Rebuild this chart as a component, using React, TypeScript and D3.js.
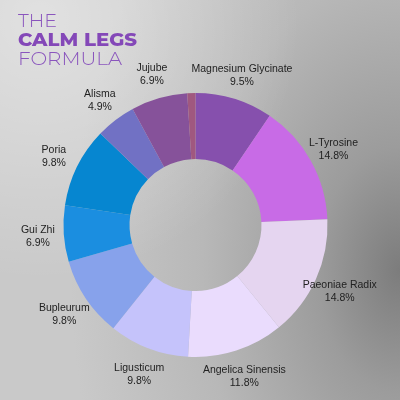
import React from "react";
import * as d3 from "d3";

// slice data, clockwise from 12 o'clock
const names = [
  "Magnesium Glycinate",
  "L-Tyrosine",
  "Paeoniae Radix",
  "Angelica Sinensis",
  "Ligusticum",
  "Bupleurum",
  "Gui Zhi",
  "Poria",
  "Alisma",
  "Jujube",
  "",
];
const values = [9.5, 14.8, 14.8, 11.8, 9.8, 9.8, 6.9, 9.8, 4.9, 6.9, 1.0];
const colors = [
  "#8650ad",
  "#c86be6",
  "#e5d5f0",
  "#eadcfd",
  "#c5c3fb",
  "#87a2eb",
  "#1b8ee0",
  "#0686d0",
  "#7171c4",
  "#86529a",
  "#a0587f",
];
const titleLines = ["THE", "CALM LEGS", "FORMULA"];

const W = 400;
const H = 400;

type Slice = { name: string; value: number; color: string };

export default function App() {
  const cx = 195.5;
  const cy = 225;
  const outer = 132;
  const inner = 66;
  const labelR = 158;

  const data: Slice[] = names.map((n, i) => ({ name: n, value: values[i], color: colors[i] }));
  const pie = d3
    .pie<Slice>()
    .value((d) => d.value)
    .sort(null);
  const arcs = pie(data);
  const arc = d3.arc<d3.PieArcDatum<Slice>>().innerRadius(inner).outerRadius(outer);
  const labelArc = d3.arc<d3.PieArcDatum<Slice>>().innerRadius(labelR).outerRadius(labelR);

  return (
    <svg
      width={W}
      height={H}
      style={{ display: "block", position: "fixed", left: 0, top: 0 }}
    >
      <defs>
        <radialGradient
          id="bg"
          cx="400"
          cy="270"
          r="330"
          gradientUnits="userSpaceOnUse"
          gradientTransform="translate(400 270) scale(1 1.5) translate(-400 -270)"
        >
          <stop offset="0" stopColor="#7c7c7c" />
          <stop offset="0.25" stopColor="#9c9c9c" />
          <stop offset="0.6" stopColor="#b8b8b8" />
          <stop offset="1" stopColor="#c9c9c9" />
        </radialGradient>
        <radialGradient id="glow" cx="40" cy="20" r="260" gradientUnits="userSpaceOnUse">
          <stop offset="0" stopColor="#ffffff" stopOpacity="0.45" />
          <stop offset="1" stopColor="#ffffff" stopOpacity="0" />
        </radialGradient>
      </defs>
      <rect width={W} height={H} fill="url(#bg)" />
      <rect width={W} height={H} fill="url(#glow)" />

      <g fontFamily="Montserrat, 'Open Sans', sans-serif" fill="#8a55bd">
        <text x={18} y={26.7} fontSize={18} fontWeight={300} textLength={39} lengthAdjust="spacingAndGlyphs">
          {titleLines[0]}
        </text>
        <text x={18} y={45.7} fontSize={18} fontWeight={800} fill="#8448b8" textLength={119} lengthAdjust="spacingAndGlyphs">
          {titleLines[1]}
        </text>
        <text x={18} y={65} fontSize={18} fontWeight={300} textLength={104} lengthAdjust="spacingAndGlyphs">
          {titleLines[2]}
        </text>
      </g>

      <g transform={`translate(${cx},${cy})`}>
        {arcs.map((a, i) => (
          <path key={i} d={arc(a) || ""} fill={a.data.color} />
        ))}
        {arcs.map((a, i) => {
          if (!a.data.name) return null;
          const [lx, ly] = labelArc.centroid(a);
          return (
            <text
              key={"l" + i}
              x={lx}
              y={ly}
              textAnchor="middle"
              fontFamily="'Liberation Sans', Arial, sans-serif"
              fontSize={10.5}
              fill="#222"
            >
              <tspan x={lx} dy={-2}>
                {a.data.name}
              </tspan>
              <tspan x={lx} dy={13}>
                {a.data.value.toFixed(1) + "%"}
              </tspan>
            </text>
          );
        })}
      </g>
    </svg>
  );
}
